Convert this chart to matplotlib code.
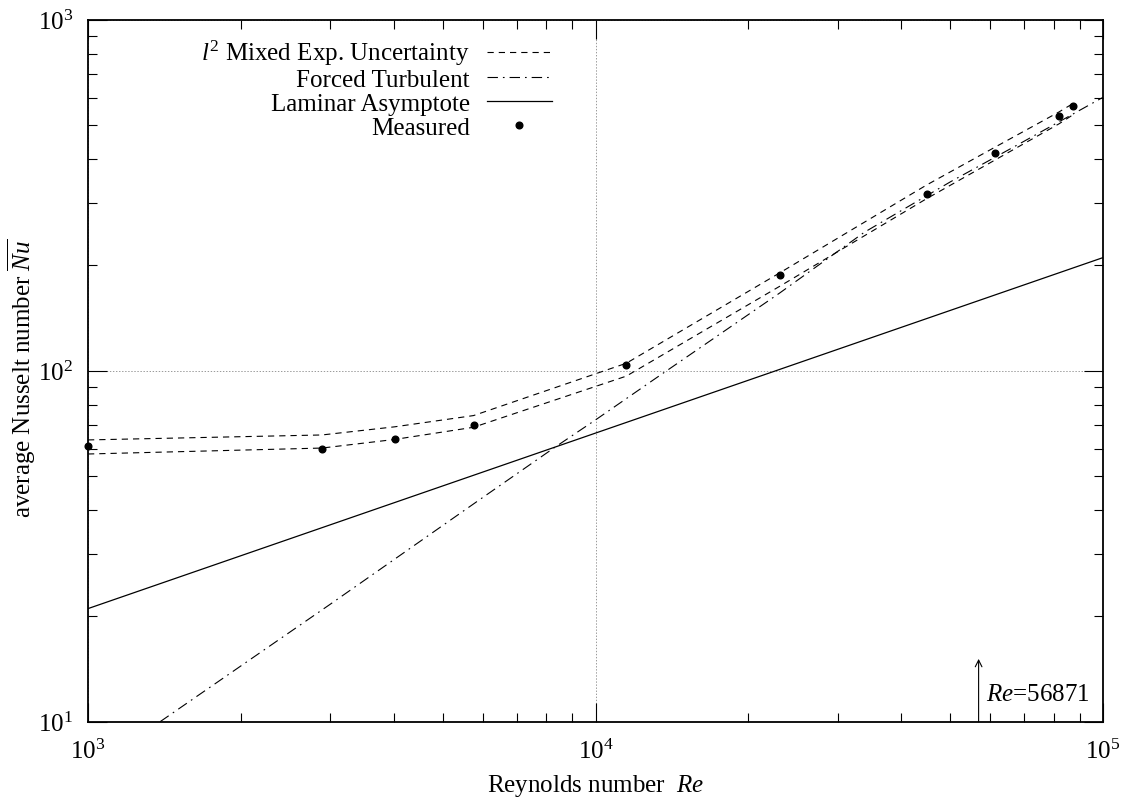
import matplotlib
matplotlib.use("Agg")
import matplotlib.pyplot as plt

plt.rcParams['font.family'] = ['Liberation Serif', 'DejaVu Serif']
plt.rcParams['mathtext.fontset'] = 'custom'
plt.rcParams['mathtext.rm'] = 'Liberation Serif'
plt.rcParams['mathtext.it'] = 'Liberation Serif:italic'
plt.rcParams['mathtext.bf'] = 'Liberation Serif:bold'
plt.rcParams['font.size'] = 18
plt.rcParams['lines.scale_dashes'] = False

# ---- data ----
measured_re = [1000, 2890, 4020, 5750, 11500, 23070, 44900, 61200, 81900, 87100]
measured_nu = [61.1, 60.0, 63.7, 70.2, 103.8, 187, 318, 418, 533, 566]

band_re = [1000, 2890, 4020, 5750, 11500, 23070, 44900, 61200, 81900, 87100]
band_upper = [63.5, 65.6, 69.2, 74.5, 105.0, 190, 338, 433, 546, 576]
band_lower = [57.9, 60.2, 63.7, 69.0, 96.5, 174, 309, 398, 505, 535]

turb_re = [1387, 3000, 5937, 8357, 10000, 13080, 23000, 33870, 50000, 70000, 100000]
turb_nu = [10.0, 21.6, 43.1, 60.8, 72.4, 94.7, 166, 248, 345, 451, 601]

lam_re = [1000, 100000]
lam_nu = [21.0, 210.0]

re_marker = 56871
legend_labels = [r"$l^2$ Mixed Exp. Uncertainty", "Forced Turbulent",
                 "Laminar Asymptote", "Measured"]

fig = plt.figure(figsize=(11.27, 8.03), dpi=100)
ax = fig.add_axes([88 / 1127, 1 - 722.7 / 803, 1015 / 1127, 702 / 803])
ax.set_xscale('log')
ax.set_yscale('log')
ax.set_xlim(1e3, 1e5)
ax.set_ylim(10, 1000)

dash = (0, (4.5, 3.6))
dashdot = (0, (7.5, 3.6, 1.2, 3.6))

h1, = ax.plot(band_re, band_upper, color='black', lw=0.8, linestyle=dash)
ax.plot(band_re, band_lower, color='black', lw=0.8, linestyle=dash)
h2, = ax.plot(turb_re, turb_nu, color='black', lw=0.8, linestyle=dashdot)
h3, = ax.plot(lam_re, lam_nu, color='black', lw=0.9, linestyle='-')
h4, = ax.plot(measured_re, measured_nu, linestyle='none', marker='o',
              markersize=4.8, color='black', clip_on=False, zorder=5)

# grid only at major ticks
ax.grid(True, which='major', color='#999999', linestyle=(0, (1, 1.2)), lw=0.7)
ax.set_axisbelow(True)

for s in ax.spines.values():
    s.set_linewidth(1.3)

ax.tick_params(which='major', direction='in', length=13.5, width=0.8,
               top=True, right=True, labelsize=18)
ax.tick_params(which='minor', direction='in', length=6.8, width=0.8,
               top=True, right=True)
ax.tick_params(axis='y', which='major', pad=10.5)
ax.tick_params(axis='x', which='major', pad=12)

ax.set_xlabel(r"Reynolds number  $Re$", fontsize=18)
ax.set_ylabel(r"average Nusselt number $\overline{Nu}$", fontsize=18)
ax.xaxis.set_label_coords(0.5, -0.072)
ax.yaxis.set_label_coords(-0.065, 0.49)
ax.yaxis.label.set_va('center')
ax.xaxis.label.set_va('top')

# annotation arrow
ax.annotate("", xy=(re_marker, 15.1), xytext=(re_marker, 10),
            arrowprops=dict(arrowstyle='->', lw=0.8, color='black',
                            shrinkA=0, shrinkB=0, mutation_scale=12))
ax.text(58800, 12.0, r"$Re$=56871", fontsize=18, ha='left', va='center')

leg = ax.legend([h1, h2, h3, h4], legend_labels, loc='upper right',
                bbox_to_anchor=(0.457, 0.974), frameon=False,
                markerfirst=False, handlelength=2.6, handletextpad=0.68,
                labelspacing=0.05, borderpad=0, borderaxespad=0,
                fontsize=18, numpoints=1)

fig.savefig("out.png", dpi=100)
